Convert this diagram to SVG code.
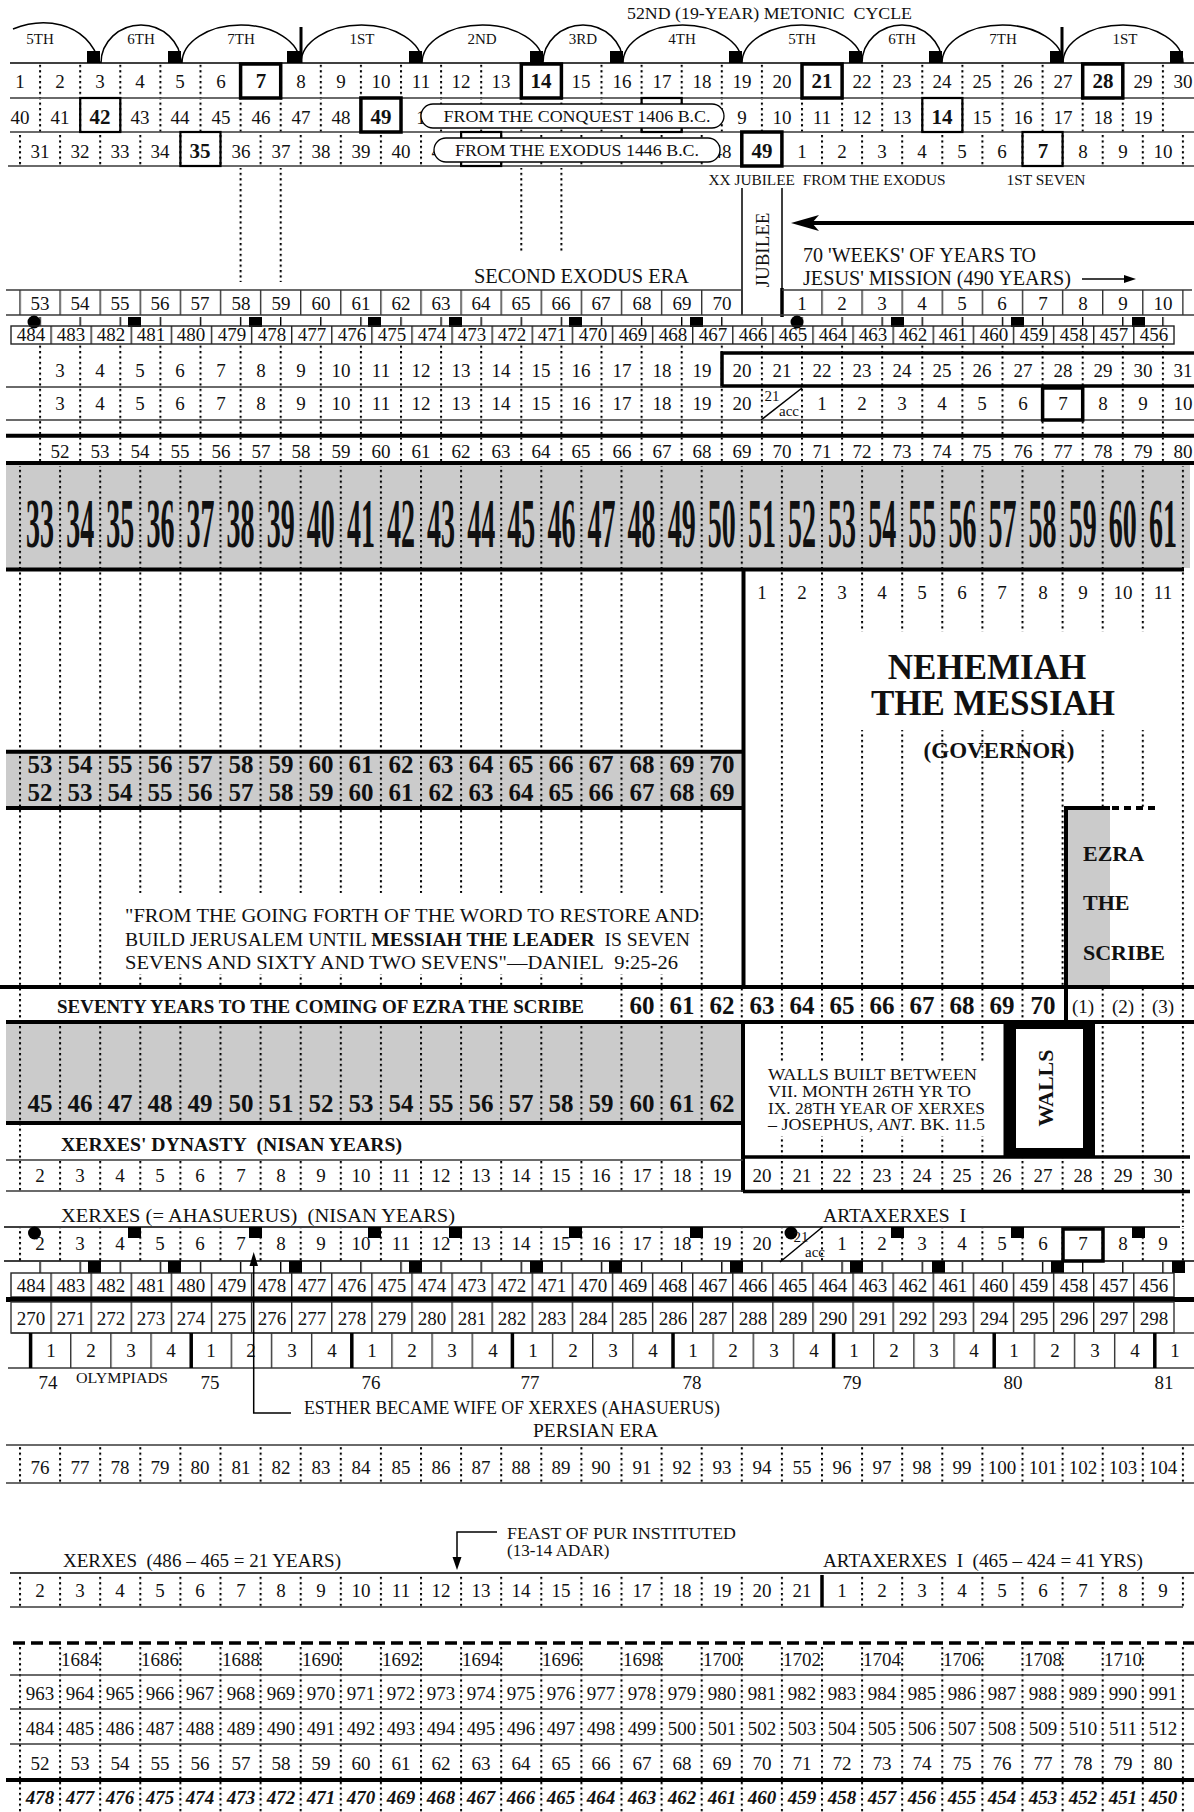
<svg xmlns="http://www.w3.org/2000/svg" width="1194" height="1812" viewBox="0 0 1194 1812">
<defs>
<pattern id="dA" patternUnits="userSpaceOnUse" x="-1" y="0" width="40.1" height="5.4"><rect width="2" height="2.2" fill="#000"/></pattern>
<pattern id="dB" patternUnits="userSpaceOnUse" x="19" y="0" width="40.1" height="5.4"><rect width="2" height="2.2" fill="#000"/></pattern>
<pattern id="tA" patternUnits="userSpaceOnUse" x="-0.7" y="0" width="40.1" height="10"><rect width="1.4" height="10" fill="#000"/></pattern>
<pattern id="vB" patternUnits="userSpaceOnUse" x="19.3" y="0" width="40.1" height="10"><rect width="1.4" height="10" fill="#333"/></pattern>
<pattern id="v11" patternUnits="userSpaceOnUse" x="10.3" y="0" width="40.1" height="10"><rect width="1.4" height="10" fill="#222"/></pattern>
<pattern id="vOl" patternUnits="userSpaceOnUse" x="29.9" y="0" width="40.15" height="10"><rect width="1.4" height="10" fill="#333"/></pattern>
<style>
text{font-family:"Liberation Serif","Times New Roman",serif;fill:#111}
.n{font-size:19px;text-anchor:middle}
.b{font-weight:bold;font-size:21px}
.nb{font-size:25px;text-anchor:middle;font-weight:bold}
.l{font-size:19.5px}
.sm{font-size:15px}
.ln{stroke:#3a3a3a;stroke-width:1.4;fill:none}
.k{stroke:#000;stroke-width:1.5;fill:none}
.th{stroke:#000;stroke-width:4;fill:none}
.bx{stroke:#000;stroke-width:3.5;fill:none}
.bm{stroke:#000;stroke-width:2.2;fill:none}
.g{fill:#cbcbcb}
.sq{fill:#000}
</style>
</defs>
<rect width="1194" height="1812" fill="#fff"/>

<g id="metonic">
<text x="627" y="19" font-size="16" textLength="285" lengthAdjust="spacingAndGlyphs">52ND (19-YEAR) METONIC&#160; CYCLE</text>
<path class="k" stroke-width="1.3" d="M13 29C40 18 85 18 100 63M101 63A40 38 0 0 1 181 63M182 63A59 38 0 0 1 300 63M301 63A60.5 38 0 0 1 422 63M422 63A60.5 38 0 0 1 543 63M543 63A40 38 0 0 1 623 63M623 63A59.5 38 0 0 1 742 63M742 63A60 38 0 0 1 862 63M862 63A40 38 0 0 1 942 63M942 63A60.5 38 0 0 1 1063 63M1063 63A60 38 0 0 1 1183 63"/>
<g font-size="15" text-anchor="middle"><text x="40" y="44">5TH</text><text x="141" y="44">6TH</text><text x="241" y="44">7TH</text><text x="362" y="44">1ST</text><text x="482" y="44">2ND</text><text x="583" y="44">3RD</text><text x="682" y="44">4TH</text><text x="802" y="44">5TH</text><text x="902" y="44">6TH</text><text x="1003" y="44">7TH</text><text x="1125" y="44">1ST</text></g>
<g class="sq"><rect x="87" y="51" width="13" height="12"/><rect x="168" y="51" width="13" height="12"/><rect x="287" y="51" width="13" height="12"/><rect x="409" y="51" width="13" height="12"/><rect x="530" y="51" width="13" height="12"/><rect x="610" y="51" width="13" height="12"/><rect x="729" y="51" width="13" height="12"/><rect x="849" y="51" width="13" height="12"/><rect x="929" y="51" width="13" height="12"/><rect x="1050" y="51" width="13" height="12"/><rect x="1170" y="51" width="13" height="12"/></g>
<path stroke="#000" stroke-width="3" d="M301 27V63M1062 27V63"/>
<path class="k" d="M10 63H1194"/>
</g>

<g id="top-rows">
<rect x="38" y="64" width="1127" height="34" fill="url(#dA)"/>
<rect x="38" y="99" width="1127" height="33" fill="url(#dA)"/>
<rect x="18" y="133" width="1167" height="33" fill="url(#dB)"/>
<rect x="239" y="168" width="44" height="114" fill="url(#dA)"/>
<rect x="519" y="168" width="44" height="84" fill="url(#dA)"/>
<path class="ln" d="M10 98H1194M10 132H1194M8 166H1194"/>
<rect class="bx" x="240.6" y="64" width="40.1" height="34"/>
<rect class="bx" x="521.3" y="64" width="40.1" height="34"/>
<rect class="bx" x="802" y="64" width="40.1" height="34"/>
<rect class="bx" x="1082.7" y="64" width="40.1" height="34"/>
<rect class="bm" x="80.2" y="98" width="40.1" height="34"/>
<rect class="bx" x="360.9" y="98" width="40.1" height="34"/>
<rect class="bm" x="922.3" y="98" width="40.1" height="34"/>
<rect class="bm" x="641.6" y="98" width="40.1" height="34"/>
<rect class="bm" x="180.4" y="132" width="40.1" height="34"/>
<rect class="bm" x="461.1" y="132" width="40.1" height="34"/>
<rect class="bx" x="741.8" y="132" width="40.1" height="34"/>
<rect class="bm" x="1022.5" y="132" width="40.1" height="34"/>
<text class="n" y="88"><tspan x="20">1</tspan><tspan x="60">2</tspan><tspan x="100">3</tspan><tspan x="140">4</tspan><tspan x="180">5</tspan><tspan x="221">6</tspan><tspan x="261" class="b">7</tspan><tspan x="301">8</tspan><tspan x="341">9</tspan><tspan x="381">10</tspan><tspan x="421">11</tspan><tspan x="461">12</tspan><tspan x="501">13</tspan><tspan x="541" class="b">14</tspan><tspan x="581">15</tspan><tspan x="622">16</tspan><tspan x="662">17</tspan><tspan x="702">18</tspan><tspan x="742">19</tspan><tspan x="782">20</tspan><tspan x="822" class="b">21</tspan><tspan x="862">22</tspan><tspan x="902">23</tspan><tspan x="942">24</tspan><tspan x="982">25</tspan><tspan x="1023">26</tspan><tspan x="1063">27</tspan><tspan x="1103" class="b">28</tspan><tspan x="1143">29</tspan><tspan x="1183">30</tspan></text>
<text class="n" y="123.5"><tspan x="20">40</tspan><tspan x="60">41</tspan><tspan x="100" class="b">42</tspan><tspan x="140">43</tspan><tspan x="180">44</tspan><tspan x="221">45</tspan><tspan x="261">46</tspan><tspan x="301">47</tspan><tspan x="341">48</tspan><tspan x="381" class="b">49</tspan><tspan x="421">1</tspan><tspan x="742">9</tspan><tspan x="782">10</tspan><tspan x="822">11</tspan><tspan x="862">12</tspan><tspan x="902">13</tspan><tspan x="942" class="b">14</tspan><tspan x="982">15</tspan><tspan x="1023">16</tspan><tspan x="1063">17</tspan><tspan x="1103">18</tspan><tspan x="1143">19</tspan></text>
<text class="n" y="157.5"><tspan x="40">31</tspan><tspan x="80">32</tspan><tspan x="120">33</tspan><tspan x="160">34</tspan><tspan x="200" class="b">35</tspan><tspan x="241">36</tspan><tspan x="281">37</tspan><tspan x="321">38</tspan><tspan x="361">39</tspan><tspan x="401">40</tspan><tspan x="441">41</tspan><tspan x="722">48</tspan><tspan x="762" class="b">49</tspan><tspan x="802">1</tspan><tspan x="842">2</tspan><tspan x="882">3</tspan><tspan x="922">4</tspan><tspan x="962">5</tspan><tspan x="1002">6</tspan><tspan x="1043" class="b">7</tspan><tspan x="1083">8</tspan><tspan x="1123">9</tspan><tspan x="1163">10</tspan></text>
<rect x="421" y="104" width="303" height="24" rx="12" fill="#fff" stroke="#000" stroke-width="1.3"/>
<text x="577" y="122" font-size="16" text-anchor="middle" textLength="267" lengthAdjust="spacingAndGlyphs">FROM THE CONQUEST 1406 B.C.</text>
<rect x="434" y="138" width="286" height="24" rx="12" fill="#fff" stroke="#000" stroke-width="1.3"/>
<text x="577" y="156" font-size="16" text-anchor="middle" textLength="244" lengthAdjust="spacingAndGlyphs">FROM THE EXODUS 1446 B.C.</text>
<text x="827" y="185" font-size="15" text-anchor="middle" textLength="237" lengthAdjust="spacingAndGlyphs">XX JUBILEE&#160; FROM THE EXODUS</text>
<text x="1046" y="185" font-size="15" text-anchor="middle" textLength="79" lengthAdjust="spacingAndGlyphs">1ST SEVEN</text>
</g>

<g id="jubilee">
<path class="k" d="M742 188V315M782 188V290"/>
<path stroke="#000" stroke-width="3.5" d="M782 288V317"/>
<text transform="translate(769 250) rotate(-90)" font-size="19" text-anchor="middle">JUBILEE</text>
<path class="th" d="M806 223H1194"/>
<polygon points="791,223 819,215 812,223 819,231" fill="#000"/>
<text x="803" y="262" font-size="20" textLength="233" lengthAdjust="spacingAndGlyphs">70 'WEEKS' OF YEARS TO</text>
<text x="803" y="285" font-size="20" textLength="268" lengthAdjust="spacingAndGlyphs">JESUS' MISSION (490 YEARS)</text>
<path class="k" stroke-width="1.3" d="M1082 279H1128"/>
<polygon points="1136,279 1124,275 1124,283" fill="#000"/>
<text x="474" y="283" font-size="20" textLength="215" lengthAdjust="spacingAndGlyphs">SECOND EXODUS ERA</text>
</g>

<g id="era-rows">
<path class="ln" d="M6 290H742M782 290H1192M6 315H1194"/>
<rect x="19" y="290" width="724" height="25" fill="url(#vB)"/>
<rect x="821" y="290" width="363" height="25" fill="url(#vB)"/>
<text class="n" y="310"><tspan x="40">53</tspan><tspan x="80">54</tspan><tspan x="120">55</tspan><tspan x="160">56</tspan><tspan x="200">57</tspan><tspan x="241">58</tspan><tspan x="281">59</tspan><tspan x="321">60</tspan><tspan x="361">61</tspan><tspan x="401">62</tspan><tspan x="441">63</tspan><tspan x="481">64</tspan><tspan x="521">65</tspan><tspan x="561">66</tspan><tspan x="601">67</tspan><tspan x="642">68</tspan><tspan x="682">69</tspan><tspan x="722">70</tspan><tspan x="802">1</tspan><tspan x="842">2</tspan><tspan x="882">3</tspan><tspan x="922">4</tspan><tspan x="962">5</tspan><tspan x="1002">6</tspan><tspan x="1043">7</tspan><tspan x="1083">8</tspan><tspan x="1123">9</tspan><tspan x="1163">10</tspan></text>
<rect x="39" y="317" width="1126" height="9" fill="url(#tA)"/>
<g class="sq"><rect x="128" y="317" width="13" height="10"/><rect x="249" y="317" width="13" height="10"/><rect x="368" y="317" width="13" height="10"/><rect x="449" y="317" width="13" height="10"/><rect x="569" y="317" width="13" height="10"/><rect x="690" y="317" width="13" height="10"/><rect x="891" y="317" width="13" height="10"/><rect x="1011" y="317" width="13" height="10"/><rect x="1132" y="317" width="13" height="10"/><circle cx="34" cy="322" r="6.5"/><circle cx="797" cy="322" r="6.5"/></g>
<rect x="11" y="326" width="1163" height="18" fill="none" stroke="#222" stroke-width="1.4"/>
<rect x="50" y="326" width="1085" height="18" fill="url(#v11)"/>
<text class="n" y="341"><tspan x="31">484</tspan><tspan x="71">483</tspan><tspan x="111">482</tspan><tspan x="151">481</tspan><tspan x="191">480</tspan><tspan x="232">479</tspan><tspan x="272">478</tspan><tspan x="312">477</tspan><tspan x="352">476</tspan><tspan x="392">475</tspan><tspan x="432">474</tspan><tspan x="472">473</tspan><tspan x="512">472</tspan><tspan x="552">471</tspan><tspan x="593">470</tspan><tspan x="633">469</tspan><tspan x="673">468</tspan><tspan x="713">467</tspan><tspan x="753">466</tspan><tspan x="793">465</tspan><tspan x="833">464</tspan><tspan x="873">463</tspan><tspan x="913">462</tspan><tspan x="953">461</tspan><tspan x="994">460</tspan><tspan x="1034">459</tspan><tspan x="1074">458</tspan><tspan x="1114">457</tspan><tspan x="1154">456</tspan></text>
<rect x="38" y="345" width="1127" height="90" fill="url(#dA)"/>
<rect x="38" y="438" width="1127" height="23" fill="url(#dA)"/>
<path class="bx" d="M1194 353H722V386H1194"/>
<path class="ln" d="M6 387H722M6 420H1194"/>
<text class="n" y="376.5"><tspan x="60">3</tspan><tspan x="100">4</tspan><tspan x="140">5</tspan><tspan x="180">6</tspan><tspan x="221">7</tspan><tspan x="261">8</tspan><tspan x="301">9</tspan><tspan x="341">10</tspan><tspan x="381">11</tspan><tspan x="421">12</tspan><tspan x="461">13</tspan><tspan x="501">14</tspan><tspan x="541">15</tspan><tspan x="581">16</tspan><tspan x="622">17</tspan><tspan x="662">18</tspan><tspan x="702">19</tspan><tspan x="742">20</tspan><tspan x="782">21</tspan><tspan x="822">22</tspan><tspan x="862">23</tspan><tspan x="902">24</tspan><tspan x="942">25</tspan><tspan x="982">26</tspan><tspan x="1023">27</tspan><tspan x="1063">28</tspan><tspan x="1103">29</tspan><tspan x="1143">30</tspan><tspan x="1183">31</tspan></text>
<rect class="bx" x="1042.6" y="388" width="40.1" height="32"/>
<path class="k" stroke-width="2" d="M761 420L802 388"/>
<text class="sm" x="772" y="401" text-anchor="middle">21</text>
<text class="sm" x="789" y="416" text-anchor="middle">acc</text>
<text class="n" y="409.5"><tspan x="60">3</tspan><tspan x="100">4</tspan><tspan x="140">5</tspan><tspan x="180">6</tspan><tspan x="221">7</tspan><tspan x="261">8</tspan><tspan x="301">9</tspan><tspan x="341">10</tspan><tspan x="381">11</tspan><tspan x="421">12</tspan><tspan x="461">13</tspan><tspan x="501">14</tspan><tspan x="541">15</tspan><tspan x="581">16</tspan><tspan x="622">17</tspan><tspan x="662">18</tspan><tspan x="702">19</tspan><tspan x="742">20</tspan><tspan x="822">1</tspan><tspan x="862">2</tspan><tspan x="902">3</tspan><tspan x="942">4</tspan><tspan x="982">5</tspan><tspan x="1023">6</tspan><tspan x="1063">7</tspan><tspan x="1103">8</tspan><tspan x="1143">9</tspan><tspan x="1183">10</tspan></text>
<path class="th" d="M6 435.7H1194M6 463H1194"/>
<text class="n" y="458"><tspan x="60">52</tspan><tspan x="100">53</tspan><tspan x="140">54</tspan><tspan x="180">55</tspan><tspan x="221">56</tspan><tspan x="261">57</tspan><tspan x="301">58</tspan><tspan x="341">59</tspan><tspan x="381">60</tspan><tspan x="421">61</tspan><tspan x="461">62</tspan><tspan x="501">63</tspan><tspan x="541">64</tspan><tspan x="581">65</tspan><tspan x="622">66</tspan><tspan x="662">67</tspan><tspan x="702">68</tspan><tspan x="742">69</tspan><tspan x="782">70</tspan><tspan x="822">71</tspan><tspan x="862">72</tspan><tspan x="902">73</tspan><tspan x="942">74</tspan><tspan x="982">75</tspan><tspan x="1023">76</tspan><tspan x="1063">77</tspan><tspan x="1103">78</tspan><tspan x="1143">79</tspan><tspan x="1183">80</tspan></text>
</g>

<g id="big-band">
<rect class="g" x="6" y="465" width="1184" height="103"/>
<rect x="18" y="466" width="1167" height="102" fill="url(#dB)"/>
<g transform="scale(0.4 1)"><text y="547" font-size="70" font-weight="bold" text-anchor="middle"><tspan x="100.25">33</tspan><tspan x="200.5">34</tspan><tspan x="300.75">35</tspan><tspan x="401">36</tspan><tspan x="501.25">37</tspan><tspan x="601.5">38</tspan><tspan x="701.75">39</tspan><tspan x="802">40</tspan><tspan x="902.25">41</tspan><tspan x="1002.5">42</tspan><tspan x="1102.75">43</tspan><tspan x="1203">44</tspan><tspan x="1303.25">45</tspan><tspan x="1403.5">46</tspan><tspan x="1503.75">47</tspan><tspan x="1604">48</tspan><tspan x="1704.25">49</tspan><tspan x="1804.5">50</tspan><tspan x="1904.75">51</tspan><tspan x="2005">52</tspan><tspan x="2105.25">53</tspan><tspan x="2205.5">54</tspan><tspan x="2305.75">55</tspan><tspan x="2406">56</tspan><tspan x="2506.25">57</tspan><tspan x="2606.5">58</tspan><tspan x="2706.75">59</tspan><tspan x="2807">60</tspan><tspan x="2907.25">61</tspan></text></g>
<path class="th" d="M6 569.5H1184"/>
</g>

<g id="middle">
<rect class="g" x="6" y="752" width="738" height="56"/>
<rect class="g" x="1066" y="808" width="44" height="179"/>
<rect x="18" y="571" width="687" height="416" fill="url(#dB)"/>
<rect x="780" y="571" width="44" height="416" fill="url(#dB)"/>
<rect x="860" y="571" width="287" height="61" fill="url(#dB)"/>
<rect x="860" y="730" width="204" height="257" fill="url(#dB)"/>
<rect x="1100" y="730" width="48" height="77" fill="url(#dB)"/>
<rect x="1181" y="571" width="4" height="656" fill="url(#dB)"/>
<rect x="118" y="893" width="580" height="81" fill="#fff"/>
<path class="th" d="M743.5 569V987M6 751.7H744M6 808H744M1066 806V1022M1064 808H1110"/>
<path stroke="#000" stroke-width="4" stroke-dasharray="7 5" d="M1112 808H1158"/>
<text class="n" y="598.5"><tspan x="762">1</tspan><tspan x="802">2</tspan><tspan x="842">3</tspan><tspan x="882">4</tspan><tspan x="922">5</tspan><tspan x="962">6</tspan><tspan x="1002">7</tspan><tspan x="1043">8</tspan><tspan x="1083">9</tspan><tspan x="1123">10</tspan><tspan x="1163">11</tspan></text>
<text class="nb" y="773"><tspan x="40">53</tspan><tspan x="80">54</tspan><tspan x="120">55</tspan><tspan x="160">56</tspan><tspan x="200">57</tspan><tspan x="241">58</tspan><tspan x="281">59</tspan><tspan x="321">60</tspan><tspan x="361">61</tspan><tspan x="401">62</tspan><tspan x="441">63</tspan><tspan x="481">64</tspan><tspan x="521">65</tspan><tspan x="561">66</tspan><tspan x="601">67</tspan><tspan x="642">68</tspan><tspan x="682">69</tspan><tspan x="722">70</tspan></text>
<text class="nb" y="801"><tspan x="40">52</tspan><tspan x="80">53</tspan><tspan x="120">54</tspan><tspan x="160">55</tspan><tspan x="200">56</tspan><tspan x="241">57</tspan><tspan x="281">58</tspan><tspan x="321">59</tspan><tspan x="361">60</tspan><tspan x="401">61</tspan><tspan x="441">62</tspan><tspan x="481">63</tspan><tspan x="521">64</tspan><tspan x="561">65</tspan><tspan x="601">66</tspan><tspan x="642">67</tspan><tspan x="682">68</tspan><tspan x="722">69</tspan></text>
<g font-weight="bold" text-anchor="middle"><text x="987" y="679" font-size="35">NEHEMIAH</text><text x="993" y="714.5" font-size="35">THE MESSIAH</text><text x="999" y="758" font-size="23">(GOVERNOR)</text></g>
<g font-weight="bold" font-size="22"><text x="1083" y="860.5">EZRA</text><text x="1083" y="909.5">THE</text><text x="1083" y="959.5">SCRIBE</text></g>
<text class="l" x="125" y="922" textLength="574" lengthAdjust="spacingAndGlyphs">"FROM THE GOING FORTH OF THE WORD TO RESTORE AND</text>
<text class="l" x="125" y="946" textLength="565" lengthAdjust="spacingAndGlyphs">BUILD JERUSALEM UNTIL <tspan font-weight="bold">MESSIAH THE LEADER</tspan>&#160; IS SEVEN</text>
<text class="l" x="125" y="969" textLength="553" lengthAdjust="spacingAndGlyphs">SEVENS AND SIXTY AND TWO SEVENS"—DANIEL&#160; 9:25-26</text>
</g>

<g id="seventy">
<rect x="18" y="988" width="4" height="34" fill="url(#dB)"/>
<rect x="620" y="988" width="405" height="34" fill="url(#dB)"/>
<rect x="1100" y="988" width="48" height="34" fill="url(#dB)"/>
<path class="th" d="M0 987H1194M6 1022H1194"/>
<text x="57" y="1013" font-size="18" font-weight="bold" textLength="527" lengthAdjust="spacingAndGlyphs">SEVENTY YEARS TO THE COMING OF EZRA THE SCRIBE</text>
<text class="nb" y="1014" font-size="24"><tspan x="642">60</tspan><tspan x="682">61</tspan><tspan x="722">62</tspan><tspan x="762">63</tspan><tspan x="802">64</tspan><tspan x="842">65</tspan><tspan x="882">66</tspan><tspan x="922">67</tspan><tspan x="962">68</tspan><tspan x="1002">69</tspan><tspan x="1043">70</tspan></text>
<text class="n" y="1013" font-size="17"><tspan x="1083">(1)</tspan><tspan x="1123">(2)</tspan><tspan x="1163">(3)</tspan></text>
</g>

<g id="walls">
<rect class="g" x="6" y="1024" width="737" height="98"/>
<rect x="18" y="1023" width="687" height="100" fill="url(#dB)"/>
<rect x="780" y="1023" width="206" height="134" fill="url(#dB)"/>
<rect x="1100" y="1023" width="48" height="134" fill="url(#dB)"/>
<rect x="762" y="1063" width="228" height="73" fill="#fff"/>
<path class="th" d="M6 1123H743M743 1022V1192"/>
<text class="nb" y="1112"><tspan x="40">45</tspan><tspan x="80">46</tspan><tspan x="120">47</tspan><tspan x="160">48</tspan><tspan x="200">49</tspan><tspan x="241">50</tspan><tspan x="281">51</tspan><tspan x="321">52</tspan><tspan x="361">53</tspan><tspan x="401">54</tspan><tspan x="441">55</tspan><tspan x="481">56</tspan><tspan x="521">57</tspan><tspan x="561">58</tspan><tspan x="601">59</tspan><tspan x="642">60</tspan><tspan x="682">61</tspan><tspan x="722">62</tspan></text>
<g font-size="17"><text x="768" y="1080" textLength="209" lengthAdjust="spacingAndGlyphs">WALLS BUILT BETWEEN</text><text x="768" y="1097" textLength="203" lengthAdjust="spacingAndGlyphs">VII. MONTH 26TH YR TO</text><text x="768" y="1114" textLength="217" lengthAdjust="spacingAndGlyphs">IX. 28TH YEAR OF XERXES</text><text x="768" y="1130" textLength="217" lengthAdjust="spacingAndGlyphs">– JOSEPHUS, <tspan font-style="italic">ANT</tspan>. BK. 11.5</text></g>
<rect x="1003.5" y="1022" width="91.5" height="135" fill="#000"/>
<rect x="1016" y="1029" width="67" height="119" fill="#fff"/>
<text transform="translate(1053 1088) rotate(-90)" font-size="22" font-weight="bold" text-anchor="middle">WALLS</text>
<text x="61" y="1151" font-size="18" font-weight="bold" textLength="341" lengthAdjust="spacingAndGlyphs">XERXES' DYNASTY&#160; (NISAN YEARS)</text>
<rect x="18" y="1124" width="4" height="68" fill="url(#dB)"/>
<rect x="58" y="1161" width="647" height="30" fill="url(#dB)"/>
<rect x="780" y="1158" width="367" height="33" fill="url(#dB)"/>
<path class="ln" d="M6 1160H743M6 1191H743"/>
<path class="bx" d="M1190 1157H743M743 1191.5H1190"/>
<text class="n" y="1181.5"><tspan x="40">2</tspan><tspan x="80">3</tspan><tspan x="120">4</tspan><tspan x="160">5</tspan><tspan x="200">6</tspan><tspan x="241">7</tspan><tspan x="281">8</tspan><tspan x="321">9</tspan><tspan x="361">10</tspan><tspan x="401">11</tspan><tspan x="441">12</tspan><tspan x="481">13</tspan><tspan x="521">14</tspan><tspan x="561">15</tspan><tspan x="601">16</tspan><tspan x="642">17</tspan><tspan x="682">18</tspan><tspan x="722">19</tspan><tspan x="762">20</tspan><tspan x="802">21</tspan><tspan x="842">22</tspan><tspan x="882">23</tspan><tspan x="922">24</tspan><tspan x="962">25</tspan><tspan x="1002">26</tspan><tspan x="1043">27</tspan><tspan x="1083">28</tspan><tspan x="1123">29</tspan><tspan x="1163">30</tspan></text>
</g>

<g id="xerxes">
<text class="l" x="61" y="1221.5" textLength="394" lengthAdjust="spacingAndGlyphs">XERXES (= AHASUERUS)&#160; (NISAN YEARS)</text>
<text class="l" x="823" y="1221.5" textLength="143" lengthAdjust="spacingAndGlyphs">ARTAXERXES&#160; I</text>
<rect x="18" y="1228" width="1167" height="33" fill="url(#dB)"/>
<path class="k" d="M4 1227H1180M4 1261H1194"/>
<g class="sq"><rect x="128" y="1227" width="13" height="11"/><rect x="249" y="1227" width="13" height="11"/><rect x="368" y="1227" width="13" height="11"/><rect x="449" y="1227" width="13" height="11"/><rect x="569" y="1227" width="13" height="11"/><rect x="690" y="1227" width="13" height="11"/><rect x="891" y="1227" width="13" height="11"/><rect x="1011" y="1227" width="13" height="11"/><rect x="1132" y="1227" width="13" height="11"/><circle cx="34.5" cy="1233" r="6.5"/><circle cx="791" cy="1233" r="6.5"/></g>
<path class="k" stroke-width="2" d="M780 1262L822.5 1227"/>
<text class="sm" x="801" y="1242" text-anchor="middle">21</text>
<text class="sm" x="815" y="1257" text-anchor="middle">acc</text>
<rect class="bx" x="1063" y="1229" width="40" height="32"/>
<text class="n" y="1249.5"><tspan x="40">2</tspan><tspan x="80">3</tspan><tspan x="120">4</tspan><tspan x="160">5</tspan><tspan x="200">6</tspan><tspan x="241">7</tspan><tspan x="281">8</tspan><tspan x="321">9</tspan><tspan x="361">10</tspan><tspan x="401">11</tspan><tspan x="441">12</tspan><tspan x="481">13</tspan><tspan x="521">14</tspan><tspan x="561">15</tspan><tspan x="601">16</tspan><tspan x="642">17</tspan><tspan x="682">18</tspan><tspan x="722">19</tspan><tspan x="762">20</tspan><tspan x="842">1</tspan><tspan x="882">2</tspan><tspan x="922">3</tspan><tspan x="962">4</tspan><tspan x="1002">5</tspan><tspan x="1043">6</tspan><tspan x="1083">7</tspan><tspan x="1123">8</tspan><tspan x="1163">9</tspan></text>
<rect x="39" y="1262" width="1126" height="11" fill="url(#tA)"/>
<g class="sq"><rect x="88" y="1261" width="13" height="12"/><rect x="168" y="1261" width="13" height="12"/><rect x="289" y="1261" width="13" height="12"/><rect x="409" y="1261" width="13" height="12"/><rect x="530" y="1261" width="13" height="12"/><rect x="609" y="1261" width="13" height="12"/><rect x="730" y="1261" width="13" height="12"/><rect x="850" y="1261" width="13" height="12"/><rect x="932" y="1261" width="13" height="12"/><rect x="1051" y="1261" width="13" height="12"/><rect x="1172" y="1261" width="13" height="12"/></g>
<rect x="11" y="1273" width="1163" height="24" fill="none" stroke="#222" stroke-width="1.4"/>
<rect x="50" y="1273" width="1085" height="24" fill="url(#v11)"/>
<text class="n" y="1291.5"><tspan x="31">484</tspan><tspan x="71">483</tspan><tspan x="111">482</tspan><tspan x="151">481</tspan><tspan x="191">480</tspan><tspan x="232">479</tspan><tspan x="272">478</tspan><tspan x="312">477</tspan><tspan x="352">476</tspan><tspan x="392">475</tspan><tspan x="432">474</tspan><tspan x="472">473</tspan><tspan x="512">472</tspan><tspan x="552">471</tspan><tspan x="593">470</tspan><tspan x="633">469</tspan><tspan x="673">468</tspan><tspan x="713">467</tspan><tspan x="753">466</tspan><tspan x="793">465</tspan><tspan x="833">464</tspan><tspan x="873">463</tspan><tspan x="913">462</tspan><tspan x="953">461</tspan><tspan x="994">460</tspan><tspan x="1034">459</tspan><tspan x="1074">458</tspan><tspan x="1114">457</tspan><tspan x="1154">456</tspan></text>
<rect x="6" y="1297" width="1188" height="5" fill="#000"/>
<rect x="11" y="1302" width="1163" height="31" fill="none" stroke="#333" stroke-width="1.4"/>
<rect x="50" y="1302" width="1085" height="31" fill="url(#v11)"/>
<text class="n" y="1324.5"><tspan x="31">270</tspan><tspan x="71">271</tspan><tspan x="111">272</tspan><tspan x="151">273</tspan><tspan x="191">274</tspan><tspan x="232">275</tspan><tspan x="272">276</tspan><tspan x="312">277</tspan><tspan x="352">278</tspan><tspan x="392">279</tspan><tspan x="432">280</tspan><tspan x="472">281</tspan><tspan x="512">282</tspan><tspan x="552">283</tspan><tspan x="593">284</tspan><tspan x="633">285</tspan><tspan x="673">286</tspan><tspan x="713">287</tspan><tspan x="753">288</tspan><tspan x="793">289</tspan><tspan x="833">290</tspan><tspan x="873">291</tspan><tspan x="913">292</tspan><tspan x="953">293</tspan><tspan x="994">294</tspan><tspan x="1034">295</tspan><tspan x="1074">296</tspan><tspan x="1114">297</tspan><tspan x="1154">298</tspan></text>
<path class="ln" d="M11 1333H1194M8 1368H1194"/>
<rect x="69" y="1333" width="1126" height="35" fill="url(#vOl)"/>
<path stroke="#000" stroke-width="3.5" d="M30.6 1333V1368M191.2 1333V1368M351.8 1333V1368M512.4 1333V1368M673 1333V1368M833.6 1333V1368M994.2 1333V1368M1154.8 1333V1368"/>
<text class="n" y="1356.5"><tspan x="51">1</tspan><tspan x="91">2</tspan><tspan x="131">3</tspan><tspan x="171">4</tspan><tspan x="211">1</tspan><tspan x="251">2</tspan><tspan x="292">3</tspan><tspan x="332">4</tspan><tspan x="372">1</tspan><tspan x="412">2</tspan><tspan x="452">3</tspan><tspan x="493">4</tspan><tspan x="533">1</tspan><tspan x="573">2</tspan><tspan x="613">3</tspan><tspan x="653">4</tspan><tspan x="693">1</tspan><tspan x="733">2</tspan><tspan x="774">3</tspan><tspan x="814">4</tspan><tspan x="854">1</tspan><tspan x="894">2</tspan><tspan x="934">3</tspan><tspan x="974">4</tspan><tspan x="1014">1</tspan><tspan x="1055">2</tspan><tspan x="1095">3</tspan><tspan x="1135">4</tspan><tspan x="1175">1</tspan></text>
<text class="n" y="1388.5"><tspan x="48">74</tspan><tspan x="210">75</tspan><tspan x="371">76</tspan><tspan x="530">77</tspan><tspan x="692">78</tspan><tspan x="852">79</tspan><tspan x="1013">80</tspan><tspan x="1164">81</tspan></text>
<text x="122" y="1383" font-size="14" text-anchor="middle" textLength="92" lengthAdjust="spacingAndGlyphs">OLYMPIADS</text>
<path class="k" stroke-width="1.3" d="M291 1413H253.7V1262"/>
<polygon points="253.7,1252 249.5,1266 258,1266" fill="#000"/>
<text class="l" x="304" y="1413.5" textLength="416" lengthAdjust="spacingAndGlyphs">ESTHER BECAME WIFE OF XERXES (AHASUERUS)</text>
<text class="l" x="533" y="1436.5">PERSIAN ERA</text>
<rect x="18" y="1446" width="1167" height="37" fill="url(#dB)"/>
<path class="ln" d="M6 1445H1194M6 1483H1194"/>
<text class="n" y="1473.5"><tspan x="40">76</tspan><tspan x="80">77</tspan><tspan x="120">78</tspan><tspan x="160">79</tspan><tspan x="200">80</tspan><tspan x="241">81</tspan><tspan x="281">82</tspan><tspan x="321">83</tspan><tspan x="361">84</tspan><tspan x="401">85</tspan><tspan x="441">86</tspan><tspan x="481">87</tspan><tspan x="521">88</tspan><tspan x="561">89</tspan><tspan x="601">90</tspan><tspan x="642">91</tspan><tspan x="682">92</tspan><tspan x="722">93</tspan><tspan x="762">94</tspan><tspan x="802">55</tspan><tspan x="842">96</tspan><tspan x="882">97</tspan><tspan x="922">98</tspan><tspan x="962">99</tspan><tspan x="1002">100</tspan><tspan x="1043">101</tspan><tspan x="1083">102</tspan><tspan x="1123">103</tspan><tspan x="1163">104</tspan></text>
</g>

<g id="bottom">
<text x="507" y="1539" font-size="17" textLength="229" lengthAdjust="spacingAndGlyphs">FEAST OF PUR INSTITUTED</text>
<text x="507" y="1556" font-size="17">(13-14 ADAR)</text>
<path class="k" stroke-width="1.3" d="M497 1532H457V1560"/>
<polygon points="457,1570 452.5,1557 461.5,1557" fill="#000"/>
<text class="l" x="63" y="1566.5" textLength="278" lengthAdjust="spacingAndGlyphs">XERXES&#160; (486 – 465 = 21 YEARS)</text>
<text class="l" x="823" y="1566.5" textLength="320" lengthAdjust="spacingAndGlyphs">ARTAXERXES&#160; I&#160; (465 – 424 = 41 YRS)</text>
<rect x="18" y="1574" width="1167" height="33" fill="url(#dB)"/>
<path class="k" d="M10 1573H1194"/>
<path class="ln" d="M10 1607H1183"/>
<path class="bx" d="M822 1575V1607"/>
<text class="n" y="1596.5"><tspan x="40">2</tspan><tspan x="80">3</tspan><tspan x="120">4</tspan><tspan x="160">5</tspan><tspan x="200">6</tspan><tspan x="241">7</tspan><tspan x="281">8</tspan><tspan x="321">9</tspan><tspan x="361">10</tspan><tspan x="401">11</tspan><tspan x="441">12</tspan><tspan x="481">13</tspan><tspan x="521">14</tspan><tspan x="561">15</tspan><tspan x="601">16</tspan><tspan x="642">17</tspan><tspan x="682">18</tspan><tspan x="722">19</tspan><tspan x="762">20</tspan><tspan x="802">21</tspan><tspan x="842">1</tspan><tspan x="882">2</tspan><tspan x="922">3</tspan><tspan x="962">4</tspan><tspan x="1002">5</tspan><tspan x="1043">6</tspan><tspan x="1083">7</tspan><tspan x="1123">8</tspan><tspan x="1163">9</tspan></text>
<path stroke="#000" stroke-width="3.5" stroke-dasharray="12 6" d="M13 1643H1194"/>
<rect x="18" y="1645" width="1167" height="167" fill="url(#dB)"/>
<path class="ln" d="M10 1675H1194M10 1709H1194M10 1744H1194"/>
<path class="th" d="M6 1780H1194"/>
<text class="n" y="1665.5" font-size="16"><tspan x="80">1684</tspan><tspan x="160">1686</tspan><tspan x="241">1688</tspan><tspan x="321">1690</tspan><tspan x="401">1692</tspan><tspan x="481">1694</tspan><tspan x="561">1696</tspan><tspan x="642">1698</tspan><tspan x="722">1700</tspan><tspan x="802">1702</tspan><tspan x="882">1704</tspan><tspan x="962">1706</tspan><tspan x="1043">1708</tspan><tspan x="1123">1710</tspan></text>
<text class="n" y="1699.5"><tspan x="40">963</tspan><tspan x="80">964</tspan><tspan x="120">965</tspan><tspan x="160">966</tspan><tspan x="200">967</tspan><tspan x="241">968</tspan><tspan x="281">969</tspan><tspan x="321">970</tspan><tspan x="361">971</tspan><tspan x="401">972</tspan><tspan x="441">973</tspan><tspan x="481">974</tspan><tspan x="521">975</tspan><tspan x="561">976</tspan><tspan x="601">977</tspan><tspan x="642">978</tspan><tspan x="682">979</tspan><tspan x="722">980</tspan><tspan x="762">981</tspan><tspan x="802">982</tspan><tspan x="842">983</tspan><tspan x="882">984</tspan><tspan x="922">985</tspan><tspan x="962">986</tspan><tspan x="1002">987</tspan><tspan x="1043">988</tspan><tspan x="1083">989</tspan><tspan x="1123">990</tspan><tspan x="1163">991</tspan></text>
<text class="n" y="1734.5"><tspan x="40">484</tspan><tspan x="80">485</tspan><tspan x="120">486</tspan><tspan x="160">487</tspan><tspan x="200">488</tspan><tspan x="241">489</tspan><tspan x="281">490</tspan><tspan x="321">491</tspan><tspan x="361">492</tspan><tspan x="401">493</tspan><tspan x="441">494</tspan><tspan x="481">495</tspan><tspan x="521">496</tspan><tspan x="561">497</tspan><tspan x="601">498</tspan><tspan x="642">499</tspan><tspan x="682">500</tspan><tspan x="722">501</tspan><tspan x="762">502</tspan><tspan x="802">503</tspan><tspan x="842">504</tspan><tspan x="882">505</tspan><tspan x="922">506</tspan><tspan x="962">507</tspan><tspan x="1002">508</tspan><tspan x="1043">509</tspan><tspan x="1083">510</tspan><tspan x="1123">511</tspan><tspan x="1163">512</tspan></text>
<text class="n" y="1769.5"><tspan x="40">52</tspan><tspan x="80">53</tspan><tspan x="120">54</tspan><tspan x="160">55</tspan><tspan x="200">56</tspan><tspan x="241">57</tspan><tspan x="281">58</tspan><tspan x="321">59</tspan><tspan x="361">60</tspan><tspan x="401">61</tspan><tspan x="441">62</tspan><tspan x="481">63</tspan><tspan x="521">64</tspan><tspan x="561">65</tspan><tspan x="601">66</tspan><tspan x="642">67</tspan><tspan x="682">68</tspan><tspan x="722">69</tspan><tspan x="762">70</tspan><tspan x="802">71</tspan><tspan x="842">72</tspan><tspan x="882">73</tspan><tspan x="922">74</tspan><tspan x="962">75</tspan><tspan x="1002">76</tspan><tspan x="1043">77</tspan><tspan x="1083">78</tspan><tspan x="1123">79</tspan><tspan x="1163">80</tspan></text>
<text class="n" y="1803.5" font-weight="bold" font-style="italic"><tspan x="40">478</tspan><tspan x="80">477</tspan><tspan x="120">476</tspan><tspan x="160">475</tspan><tspan x="200">474</tspan><tspan x="241">473</tspan><tspan x="281">472</tspan><tspan x="321">471</tspan><tspan x="361">470</tspan><tspan x="401">469</tspan><tspan x="441">468</tspan><tspan x="481">467</tspan><tspan x="521">466</tspan><tspan x="561">465</tspan><tspan x="601">464</tspan><tspan x="642">463</tspan><tspan x="682">462</tspan><tspan x="722">461</tspan><tspan x="762">460</tspan><tspan x="802">459</tspan><tspan x="842">458</tspan><tspan x="882">457</tspan><tspan x="922">456</tspan><tspan x="962">455</tspan><tspan x="1002">454</tspan><tspan x="1043">453</tspan><tspan x="1083">452</tspan><tspan x="1123">451</tspan><tspan x="1163">450</tspan></text>
</g>
</svg>
